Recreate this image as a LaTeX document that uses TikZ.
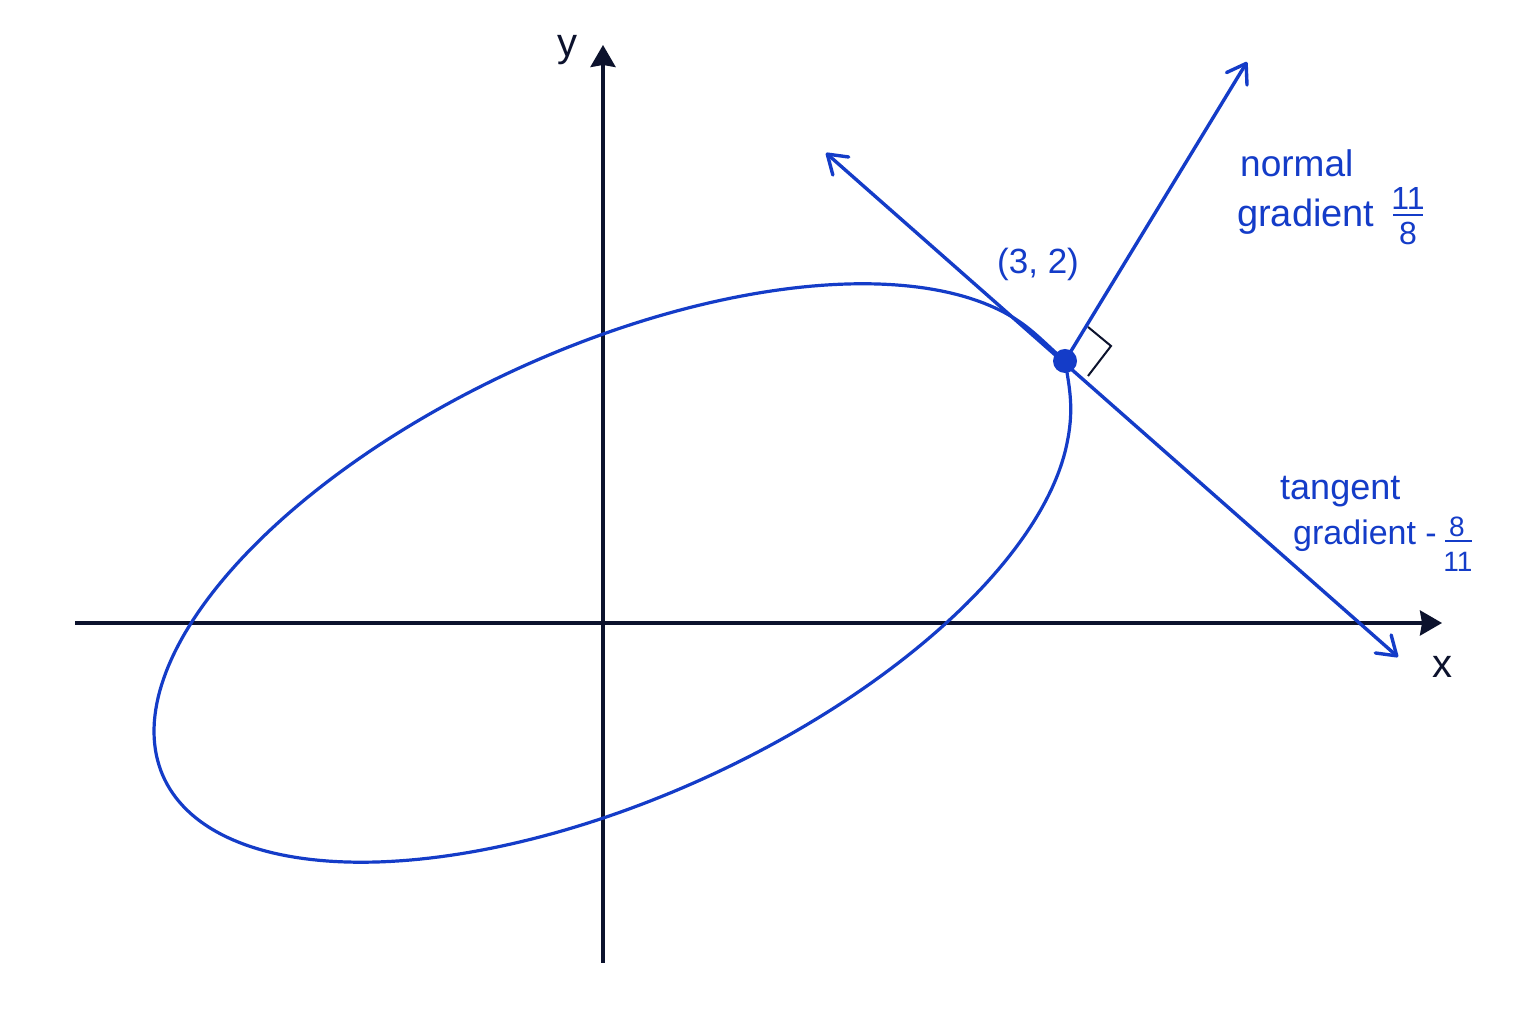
\documentclass[tikz,border=0pt]{standalone}
\usepackage{fontspec}
\setmainfont{Liberation Sans}
\usetikzlibrary{arrows.meta}
\definecolor{mainblue}{RGB}{20,60,200}
\definecolor{axisnavy}{RGB}{12,18,45}
\tikzset{
  axisline/.style={draw=axisnavy, line width=3.5pt, -{Stealth[length=22pt,width=25pt,inset=2pt]}},
  curveline/.style={draw=mainblue, line width=3.2pt, line join=round},
  vecline/.style={draw=mainblue, line width=3.4pt, line cap=round, >={Straight Barb[length=18pt,width=24pt,round]}},
  lbl/.style={text=mainblue, inner sep=0pt, anchor=base west},
  axlbl/.style={text=axisnavy, inner sep=0pt, anchor=base},
  fracnum/.style={text=mainblue, inner sep=0pt, anchor=base},
  fracbar/.style={draw=mainblue, line width=2.6pt},
  rightmark/.style={draw=axisnavy, line width=2pt, line join=miter},
}
\begin{document}
\begin{tikzpicture}[x=1pt,y=1pt]
\useasboundingbox (0,0) rectangle (1536,1024);
\fill[white] (0,0) rectangle (1536,1024);

% axes
\coordinate (xl) at (75,401);
\coordinate (xr) at (1442,401);
\coordinate (yb) at (603,61);
\coordinate (yt) at (603,979);
\draw[axisline] (xl) -- (xr);
\draw[axisline] (yb) -- (yt);
\node[axlbl, font=\fontsize{40}{48}\selectfont] (ylab) at (567,967) {y};
\node[axlbl, font=\fontsize{40}{48}\selectfont] (xlab) at (1442,346) {x};

% point, tangent, normal
\coordinate (P) at (1065,663);
\coordinate (T1) at (826,871);
\coordinate (T2) at (1398,367);
\coordinate (N) at (1247,962);

% ellipse (with its pointed end at P)
\coordinate (L) at (1068.0,585.7);
\coordinate (U) at (1001.2,713.1);
\draw[curveline] (P) to[out=-80,in=80] (L)
  -- plot[domain=-17.19:-339.95, samples=240, variable=\t]
     ({612+448.4*cos(\t)-93.3*sin(\t)}, {451+204.3*cos(\t)+204.75*sin(\t)})
  to[out=-27,in=139] (P);

\draw[vecline, <->] (T1) -- (T2);
\draw[vecline, ->] (P) -- (N);

% right angle marker
\coordinate (ra1) at (1088,697);
\coordinate (ra2) at (1111,678);
\coordinate (ra3) at (1088,648);
\draw[rightmark] (ra1) -- (ra2) -- (ra3);

\fill[mainblue] (P) circle [radius=12pt];

% labels
\node[lbl, font=\fontsize{35}{42}\selectfont] (pt) at (997,750) {(3, 2)};

\node[lbl, font=\fontsize{37}{44}\selectfont] (nlab) at (1240,847) {normal};
\node[lbl, font=\fontsize{38}{46}\selectfont] (ngrad) at (1237,797) {gradient};
\node[fracnum, font=\fontsize{32}{38}\selectfont] (nnum) at (1408,814) {11};
\coordinate (nb1) at (1393,809);
\coordinate (nb2) at (1423,809);
\draw[fracbar] (nb1) -- (nb2);
\node[fracnum, font=\fontsize{32}{38}\selectfont] (nden) at (1408,779) {8};

\node[lbl, font=\fontsize{36}{43}\selectfont] (tlab) at (1280,524) {tangent};
\node[lbl, font=\fontsize{34}{41}\selectfont] (tgrad) at (1293,479) {gradient -};
\node[fracnum, font=\fontsize{28}{33}\selectfont] (tnum) at (1457,487) {8};
\coordinate (tb1) at (1445,483);
\coordinate (tb2) at (1472,483);
\draw[fracbar] (tb1) -- (tb2);
\node[fracnum, font=\fontsize{28}{33}\selectfont] (tden) at (1458,452) {11};
\end{tikzpicture}
\end{document}
